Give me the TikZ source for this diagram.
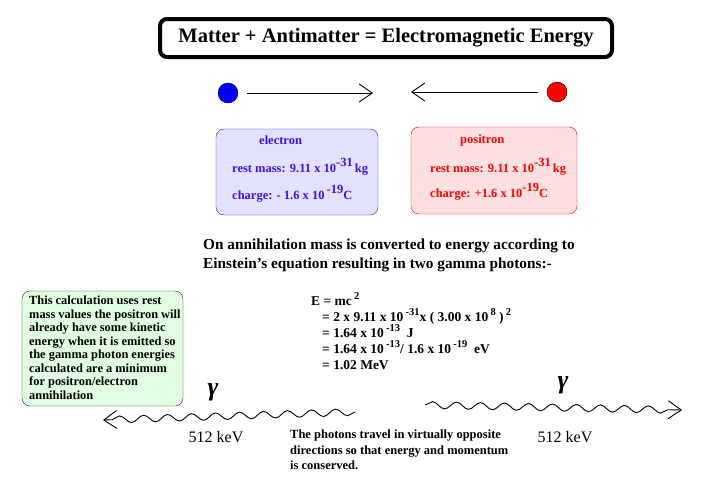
\documentclass[tikz,border=0pt]{standalone}
\usepackage{fontspec}
\setmainfont{Liberation Serif}
\usetikzlibrary{positioning,arrows.meta,decorations.pathmorphing}
\definecolor{elecblue}{RGB}{64,16,240}
\definecolor{elecfill}{RGB}{226,226,255}
\definecolor{posired}{RGB}{255,0,0}
\definecolor{posifill}{RGB}{255,224,224}
\definecolor{notefill}{RGB}{224,255,224}
\newcommand{\pw}[1]{\smash{\raisebox{.5em}{#1}}}
\newcommand{\eqp}[1]{\smash{\,\raisebox{.42em}{\fontsize{10.5}{10.5}\selectfont #1}}}
\tikzset{
  titlebox/.style={draw,line width=4pt,rounded corners=7pt,minimum width=452pt,minimum height=38pt,font=\fontsize{20.5}{24}\selectfont\bfseries},
  particle/.style={circle,draw,minimum size=20pt,inner sep=0pt},
  infobox/.style={draw,rounded corners=8pt,inner sep=0pt},
  infotext/.style={anchor=west,inner sep=0pt,font=\fontsize{12.5}{14}\selectfont\bfseries},
  motion/.style={-{Straight Barb[length=13pt,width=18pt]},line width=.9pt},
  photon/.style={line width=.9pt,decorate,decoration={snake,segment length=24pt,amplitude=3.5pt,post length=3pt}},
  gammasym/.style={font=\fontsize{26}{30}\selectfont\bfseries\itshape},
  energy/.style={font=\fontsize{16}{18}\selectfont},
}
\begin{document}
\begin{tikzpicture}[x=1pt,y=-1pt]
\useasboundingbox (0,0) rectangle (724,480);

\node[titlebox] (title) at (386,38) {Matter + Antimatter = Electromagnetic Energy};

\node[particle,fill=blue] (edot) at (228,93) {};
\node[particle,fill=red] (pdot) at (557,92) {};
\coordinate (etip) at (373,93);
\coordinate (ptip) at (411,92);
\draw[motion] ([xshift=9pt]edot.east) -- (etip);
\draw[motion] ([xshift=-9pt]pdot.west) -- (ptip);

\node[infobox,draw=elecblue,fill=elecfill,minimum width=162pt,minimum height=86pt] (ebox) at (297,172) {};
\node[infotext,text=elecblue] (ename) at (259,140) {electron};
\node[infotext,text=elecblue] (emass) at (232,170) {rest mass: 9.11 x 10\pw{-31}\,kg};
\node[infotext,text=elecblue] (echarge) at (232,197) {charge: - 1.6 x 10\,\pw{-19}C};

\node[infobox,draw=posired,fill=posifill,minimum width=166pt,minimum height=87pt] (pbox) at (494,170.5) {};
\node[infotext,text=posired] (pname) at (460,140) {positron};
\node[infotext,text=posired] (pmass) at (430,170) {rest mass: 9.11 x 10\pw{-31}\,kg};
\node[infotext,text=posired] (pcharge) at (430,195) {charge: +1.6 x 10\pw{-19}C};

\node[anchor=north west,inner sep=0pt,align=left,font=\fontsize{15.3}{19}\selectfont\bfseries] (intro) at (203,239)
  {On annihilation mass is converted to energy according to\\Einstein's equation resulting in two gamma photons:-};

\node[anchor=north west,inner sep=0pt,align=left,font=\fontsize{13.5}{16.2}\selectfont\bfseries] (eqn) at (311,296)
  {E = mc\eqp{2}\\
   \hspace{11pt}= 2 x 9.11 x 10\eqp{-31}x ( 3.00 x 10\eqp{8} )\eqp{2}\\
   \hspace{11pt}= 1.64 x 10\eqp{-13} \ J\\
   \hspace{11pt}= 1.64 x 10\eqp{-13}/ 1.6 x 10\eqp{-19} \ eV\\
   \hspace{11pt}= 1.02 MeV};

\node[infobox,draw=black!85,fill=notefill,minimum width=161pt,minimum height=115pt] (note) at (102.5,348.5) {};
\node[anchor=north west,inner sep=0pt,align=left,font=\fontsize{12.4}{13.5}\selectfont\bfseries] (notetext) at (29,296)
  {This calculation uses rest\\mass values the positron will\\already have some kinetic\\energy when it is emitted so\\the gamma photon energies\\calculated are a minimum\\for positron/electron\\annihilation};

\node[gammasym] (gleft) at (213,392) {γ};
\node[gammasym] (gright) at (563,385) {γ};
\coordinate (gla) at (355,412);
\coordinate (glb) at (103,420);
\coordinate (gra) at (425,405);
\coordinate (grb) at (682,410);
\draw[photon,-{Straight Barb[length=13pt,width=18pt]}] (gla) -- (glb);
\draw[photon,-{Straight Barb[length=13pt,width=18pt]}] (gra) -- (grb);
\node[energy] (eleft) at (216,437) {512 keV};
\node[energy] (eright) at (565,437) {512 keV};

\node[anchor=north west,inner sep=0pt,align=left,font=\fontsize{12.5}{15.5}\selectfont\bfseries] (outro) at (290,430)
  {The photons travel in virtually opposite\\directions so that energy and momentum\\is conserved.};
\end{tikzpicture}
\end{document}
